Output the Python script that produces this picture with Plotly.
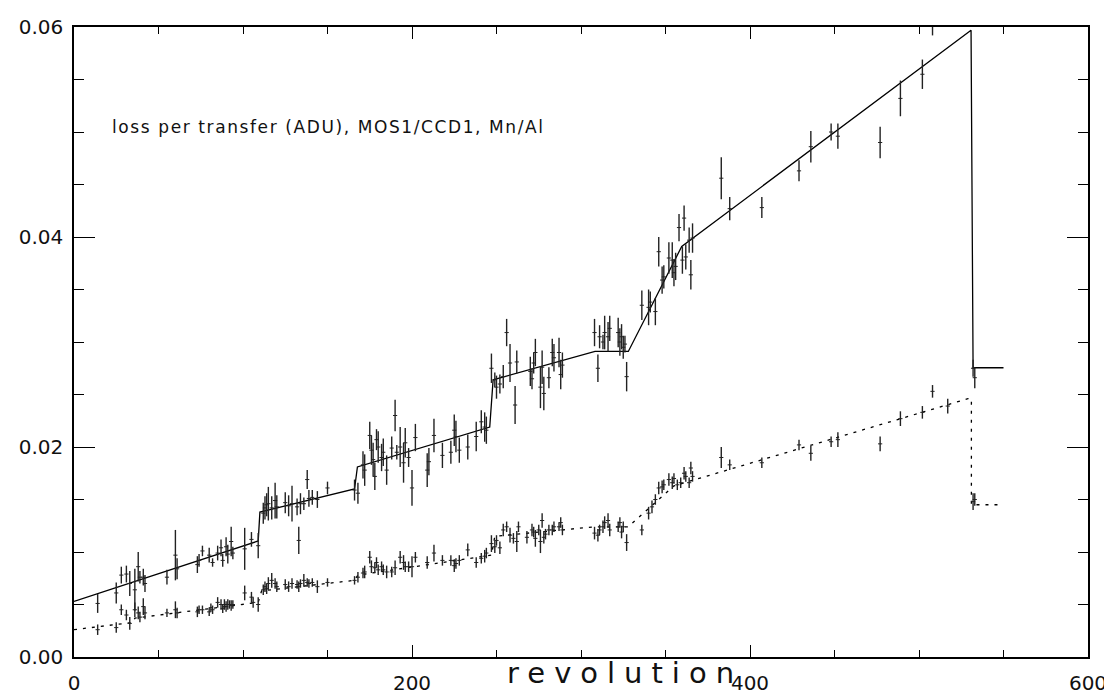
import plotly.graph_objects as go

# ---- data ----
up_rev = [14, 25, 28, 31, 33, 36, 38, 39, 41, 42, 55, 60, 61, 73, 74, 76, 80, 82, 85, 87, 88, 90, 91, 93, 94, 101, 105, 109,
          112, 113, 114, 115, 117, 119, 120, 125, 127, 129, 132, 133, 134, 136, 138, 139, 141, 144, 150, 166, 168,
          171, 172, 175, 176, 177, 178, 179, 180, 182, 183, 185, 188, 190, 191, 193, 195, 196, 198, 200, 202, 209, 210,
          213, 218, 223, 225, 226, 228, 233, 238, 241, 243, 244,
          247, 249, 250, 252, 254, 256, 258, 261, 262, 270, 271, 272, 273, 276, 277, 278, 281, 283, 284, 287, 288, 289,
          308, 310, 311, 313, 314, 316, 317, 322, 323, 324, 325, 326, 327,
          336, 340, 341, 344, 346, 348, 349, 352, 354, 355, 356, 358, 360, 361, 362, 364, 365, 366,
          383, 388, 407, 429, 436, 448, 452, 477, 489, 502, 508, 532, 533]
up_val = [0.0051, 0.0061, 0.0078, 0.0079, 0.0070, 0.0064, 0.0086, 0.0076, 0.0076, 0.0070, 0.0076, 0.0097, 0.0084,
          0.0088, 0.0092, 0.0101, 0.0097, 0.0090, 0.0099, 0.0104, 0.0092, 0.0105, 0.0098, 0.0110, 0.0099, 0.0103,
          0.0112, 0.0106,
          0.0137, 0.0142, 0.0145, 0.0146, 0.0142, 0.0149, 0.0143, 0.0147, 0.0144, 0.0146, 0.0143, 0.0111, 0.0146,
          0.0146, 0.0169, 0.0151, 0.0152, 0.0150, 0.0161, 0.0159, 0.0156,
          0.0183, 0.0178, 0.0211, 0.0197, 0.0188, 0.0172, 0.0207, 0.0200, 0.0190, 0.0195, 0.0178, 0.0199, 0.0230,
          0.0195, 0.0200, 0.0185, 0.0204, 0.0190, 0.0161, 0.0209, 0.0178, 0.0186,
          0.0211, 0.0192, 0.0195, 0.0216, 0.0210, 0.0197, 0.0200, 0.0210, 0.0224, 0.0219, 0.0216,
          0.0275, 0.0264, 0.0257, 0.0260, 0.0267, 0.0309, 0.0280, 0.0240, 0.0281, 0.0272, 0.0265, 0.0280, 0.0290,
          0.0257, 0.0276, 0.0251, 0.0266, 0.0290, 0.0285, 0.0290, 0.0269, 0.0278,
          0.0309, 0.0275, 0.0305, 0.0300, 0.0309, 0.0305, 0.0313, 0.0309, 0.0300, 0.0305, 0.0295, 0.0298, 0.0267,
          0.0335, 0.0333, 0.0338, 0.0329, 0.0386, 0.0359, 0.0362, 0.0380, 0.0378, 0.0366, 0.0372, 0.0409, 0.0378,
          0.0418, 0.0381, 0.0397, 0.0364, 0.0399,
          0.0456, 0.0427, 0.0428, 0.0463, 0.0486, 0.0500, 0.0496, 0.0490, 0.0532, 0.0555, 0.0605, 0.0275, 0.0266]
up_err = [0.0009, 0.0010, 0.0008, 0.0008, 0.0012, 0.0020, 0.0014, 0.0006, 0.0008, 0.0008, 0.0007, 0.0024, 0.0010,
          0.0008, 0.0006, 0.0005, 0.0007, 0.0004, 0.0007, 0.0008, 0.0006, 0.0009, 0.0009, 0.0014, 0.0006, 0.0020,
          0.0007, 0.0012,
          0.0010, 0.0011, 0.0011, 0.0016, 0.0011, 0.0017, 0.0011, 0.0010, 0.0010, 0.0017, 0.0008, 0.0013, 0.0010,
          0.0006, 0.0009, 0.0008, 0.0007, 0.0008, 0.0006, 0.0010, 0.0010,
          0.0013, 0.0015, 0.0013, 0.0014, 0.0016, 0.0013, 0.0010, 0.0015, 0.0013, 0.0013, 0.0014, 0.0011, 0.0015,
          0.0007, 0.0019, 0.0019, 0.0014, 0.0009, 0.0017, 0.0013, 0.0016, 0.0013,
          0.0016, 0.0012, 0.0011, 0.0015, 0.0015, 0.0012, 0.0012, 0.0014, 0.0011, 0.0014, 0.0013,
          0.0014, 0.0007, 0.0011, 0.0009, 0.0011, 0.0013, 0.0018, 0.0018, 0.0011, 0.0014, 0.0010, 0.0010, 0.0013,
          0.0020, 0.0016, 0.0016, 0.0010, 0.0013, 0.0013, 0.0014, 0.0014, 0.0012,
          0.0013, 0.0013, 0.0011, 0.0007, 0.0016, 0.0014, 0.0012, 0.0014, 0.0013, 0.0012, 0.0011, 0.0008, 0.0014,
          0.0014, 0.0017, 0.0010, 0.0013, 0.0014, 0.0013, 0.0011, 0.0015, 0.0017, 0.0013, 0.0013, 0.0013, 0.0013,
          0.0012, 0.0012, 0.0012, 0.0014, 0.0014,
          0.0020, 0.0011, 0.0010, 0.0010, 0.0015, 0.0008, 0.0012, 0.0015, 0.0017, 0.0014, 0.0013, 0.0008, 0.0010]

lo_rev = [14, 25, 28, 31, 33, 36, 38, 39, 41, 42, 55, 60, 61, 73, 74, 76, 80, 81, 82, 85, 87, 88, 89, 90, 91, 92, 93, 94,
          101, 105, 106, 109,
          112, 113, 114, 115, 117, 119, 120, 125, 127, 129, 132, 133, 134, 136, 138, 139, 141, 144, 150, 166, 168,
          171, 172, 175, 176, 178, 179, 180, 182, 183, 185, 188, 190, 193, 195, 196, 198, 200, 202, 209, 213, 218,
          223, 225, 226, 228, 233, 238, 241, 243, 244,
          247, 249, 250, 252, 254, 256, 258, 260, 262, 263, 268, 271, 272, 273, 275, 276, 277, 278, 279, 281, 283,
          284, 287, 288, 289,
          308, 310, 311, 313, 314, 316, 317, 322, 323, 324, 325, 327,
          336, 340, 342, 344, 346, 348, 349, 352, 354, 355, 357, 359, 361, 362, 364, 365, 366,
          383, 388, 407, 429, 436, 448, 452, 477, 489, 502, 508, 517, 532, 533]
lo_val = [0.0026, 0.0028, 0.0045, 0.0040, 0.0032, 0.0045, 0.0042, 0.0038, 0.0048, 0.0042, 0.0042, 0.0045, 0.0042,
          0.0043, 0.0045, 0.0045, 0.0043, 0.0047, 0.0045, 0.0052, 0.0050, 0.0046, 0.0050, 0.0048, 0.0050, 0.0050,
          0.0049, 0.0050, 0.0061, 0.0057, 0.0052, 0.0050,
          0.0064, 0.0067, 0.0065, 0.0070, 0.0073, 0.0070, 0.0067, 0.0069, 0.0067, 0.0070, 0.0069, 0.0067, 0.0070,
          0.0073, 0.0071, 0.0070, 0.0071, 0.0067, 0.0071, 0.0073, 0.0076,
          0.0080, 0.0081, 0.0095, 0.0086, 0.0085, 0.0090, 0.0083, 0.0086, 0.0083, 0.0081, 0.0081, 0.0085, 0.0095,
          0.0090, 0.0086, 0.0086, 0.0086, 0.0095, 0.0090, 0.0099, 0.0092,
          0.0092, 0.0087, 0.0089, 0.0092, 0.0102, 0.0090, 0.0094, 0.0096, 0.0099,
          0.0108, 0.0105, 0.0111, 0.0104, 0.0121, 0.0124, 0.0116, 0.0113, 0.0110, 0.0124, 0.0114, 0.0121, 0.0119,
          0.0113, 0.0121, 0.0110, 0.0130, 0.0114, 0.0117, 0.0121, 0.0121, 0.0124, 0.0124, 0.0128, 0.0121,
          0.0118, 0.0116, 0.0121, 0.0124, 0.0128, 0.0130, 0.0121, 0.0124, 0.0128, 0.0119, 0.0124, 0.0109,
          0.0121, 0.0137, 0.0143, 0.0150, 0.0161, 0.0162, 0.0164, 0.0169, 0.0166, 0.0170, 0.0164, 0.0166, 0.0175,
          0.0172, 0.0166, 0.0180, 0.0172,
          0.0190, 0.0183, 0.0185, 0.0202, 0.0194, 0.0205, 0.0207, 0.0203, 0.0227, 0.0233, 0.0253, 0.0239, 0.0148,
          0.0150]
lo_err = [0.0005, 0.0005, 0.0005, 0.0005, 0.0006, 0.0007, 0.0006, 0.0005, 0.0008, 0.0006, 0.0004, 0.0008, 0.0005,
          0.0005, 0.0004, 0.0004, 0.0004, 0.0004, 0.0004, 0.0005, 0.0005, 0.0004, 0.0005, 0.0005, 0.0005, 0.0004,
          0.0005, 0.0004, 0.0007, 0.0005, 0.0005, 0.0007,
          0.0005, 0.0005, 0.0005, 0.0006, 0.0007, 0.0005, 0.0005, 0.0005, 0.0005, 0.0005, 0.0004, 0.0005, 0.0004,
          0.0006, 0.0004, 0.0004, 0.0004, 0.0006, 0.0004, 0.0004, 0.0005,
          0.0005, 0.0006, 0.0006, 0.0006, 0.0005, 0.0005, 0.0005, 0.0005, 0.0005, 0.0006, 0.0005, 0.0007, 0.0006,
          0.0007, 0.0005, 0.0005, 0.0010, 0.0005, 0.0006, 0.0008, 0.0005,
          0.0005, 0.0006, 0.0005, 0.0005, 0.0006, 0.0005, 0.0005, 0.0006, 0.0005,
          0.0008, 0.0006, 0.0005, 0.0006, 0.0006, 0.0005, 0.0007, 0.0005, 0.0010, 0.0005, 0.0006, 0.0006, 0.0005,
          0.0008, 0.0005, 0.0011, 0.0007, 0.0006, 0.0005, 0.0005, 0.0005, 0.0005, 0.0004, 0.0005, 0.0005,
          0.0006, 0.0006, 0.0005, 0.0006, 0.0006, 0.0007, 0.0006, 0.0005, 0.0005, 0.0006, 0.0005, 0.0008,
          0.0005, 0.0006, 0.0006, 0.0005, 0.0006, 0.0006, 0.0005, 0.0006, 0.0006, 0.0005, 0.0005, 0.0005, 0.0006,
          0.0005, 0.0005, 0.0006, 0.0005,
          0.0010, 0.0005, 0.0005, 0.0005, 0.0007, 0.0005, 0.0007, 0.0007, 0.0007, 0.0006, 0.0006, 0.0007, 0.0008,
          0.0006]

# model curves (breakpoints)
up_model_rev = [0, 109, 110, 166, 167.7, 246, 248, 308.3, 328, 359.6, 530.8, 532, 550]
up_model_val = [0.0053, 0.01105, 0.0138, 0.0160, 0.0181, 0.0219, 0.0264, 0.0291, 0.0291, 0.0391, 0.0597, 0.02755, 0.02755]
lo_model_rev = [0, 35, 36, 109, 111, 166, 168, 247, 249, 308, 328, 355, 529, 531, 531, 547]
lo_model_val = [0.0026, 0.0033, 0.0037, 0.0052, 0.0063, 0.0073, 0.0078, 0.0097, 0.0115, 0.0124, 0.0124, 0.0163,
                0.0246, 0.0246, 0.0145, 0.0145]

x_ticks = [0, 200, 400, 600]
y_ticks = [0.00, 0.02, 0.04, 0.06]

INK = "#222222"
FONT = "DejaVu Sans"

fig = go.Figure()

fig.add_trace(go.Scatter(x=up_model_rev, y=up_model_val, mode="lines",
                         line=dict(color="black", width=1.3), hoverinfo="skip"))
fig.add_trace(go.Scatter(x=lo_model_rev, y=lo_model_val, mode="lines",
                         line=dict(color="black", width=1.3, dash="3px,6px"), hoverinfo="skip"))

for xs, ys, es in [(up_rev, up_val, up_err), (lo_rev, lo_val, lo_err)]:
    fig.add_trace(go.Scatter(
        x=xs, y=ys, mode="markers", cliponaxis=False,
        marker=dict(symbol="line-ew", size=3, color=INK, line=dict(color=INK, width=1)),
        error_y=dict(type="data", array=es, visible=True, width=0, thickness=1.4, color=INK),
    ))

axis_common = dict(showline=True, linecolor="black", linewidth=1.5, mirror="ticks",
                   ticks="inside", tickcolor="black", tickwidth=1.3,
                   showgrid=False, zeroline=False, automargin=False,
                   tickfont=dict(family=FONT, size=20, color="#111"))

fig.update_xaxes(range=[0, 600], tickvals=x_ticks, ticklen=12, ticklabelstandoff=7,
                 minor=dict(dtick=50, ticklen=7, ticks="inside", tickcolor="black", tickwidth=1.2, showgrid=False),
                 **axis_common)
fig.update_yaxes(range=[0, 0.06], tickvals=y_ticks, tickformat=".2f", ticklen=21, ticklabelstandoff=5,
                 minor=dict(dtick=0.005, ticklen=10, ticks="inside", tickcolor="black", tickwidth=1.2, showgrid=False),
                 **axis_common)

fig.add_annotation(xref="paper", yref="paper", x=0.0355, y=0.841, xanchor="left", yanchor="middle",
                   text='<span style="letter-spacing:1.6px">loss per transfer (ADU), MOS1/CCD1, Mn/Al</span>',
                   showarrow=False, font=dict(family=FONT, size=17, color="#111"))
fig.add_annotation(xref="paper", yref="paper", x=0.543, y=-0.026, xanchor="center", yanchor="middle",
                   text='<span style="letter-spacing:9px">revolution</span>',
                   showarrow=False, font=dict(family=FONT, size=29, color="#111"))

# the page adds an 8px body margin, so the figure is sized to fit the window
fig.update_layout(width=1104, height=686, showlegend=False,
                  margin=dict(l=66, r=24, t=19, b=37),
                  paper_bgcolor="white", plot_bgcolor="white")

fig.write_html("out.html")
